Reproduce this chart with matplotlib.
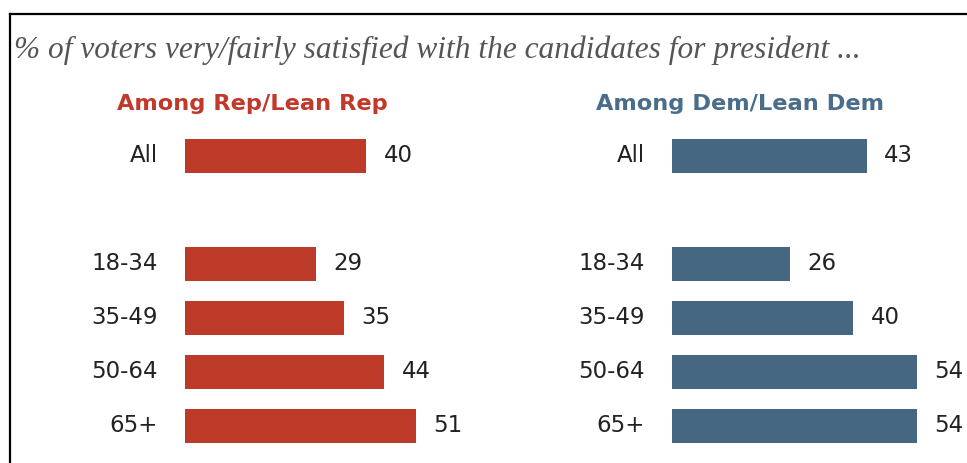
import matplotlib
matplotlib.use('Agg')
import matplotlib.pyplot as plt
from matplotlib.lines import Line2D

groups = ['All', '', '18-34', '35-49', '50-64', '65+']
repValues = [40, None, 29, 35, 44, 51]
demValues = [43, None, 26, 40, 54, 54]

repColor = '#be3a28'
demColor = '#456781'

W, H = 967, 463
fig = plt.figure(figsize=(W / 100, H / 100), dpi=100)

pxPerUnit = 4.53
yTop, yBot = 129, 452.5


def drawPanel(left, values, color):
    ax = fig.add_axes([left / W, 1 - yBot / H, 60 * pxPerUnit / W, (yBot - yTop) / H])
    for i, (g, v) in enumerate(zip(groups, values)):
        if v is None:
            continue
        ax.barh(i, v, height=0.63, color=color, edgecolor='none')
        ax.text(-6, i, g, ha='right', va='center', fontsize=16.5, color='#222222')
        ax.annotate(str(v), (v, i), xytext=(12.5, 0), textcoords='offset points',
                    ha='left', va='center', fontsize=16.5, color='#222222')
    ax.set_xlim(0, 60)
    ax.set_ylim(5.5, -0.5)
    ax.axis('off')
    return ax


drawPanel(185, repValues, repColor)
drawPanel(672, demValues, demColor)

fig.text(14 / W, 1 - 58 / H, '% of voters very/fairly satisfied with the candidates for president ...',
         ha='left', va='baseline', fontsize=22.6, family='Liberation Serif', style='italic', color='#555555')
fig.text(252 / W, 1 - 104 / H, 'Among Rep/Lean Rep', ha='center', va='center',
         fontsize=16.2, fontweight='bold', color='#c0392b')
fig.text(740 / W, 1 - 104 / H, 'Among Dem/Lean Dem', ha='center', va='center',
         fontsize=16.2, fontweight='bold', color='#4a6d8c')

# frame lines along top and left
fig.add_artist(Line2D([10 / W, 1], [1 - 14 / H, 1 - 14 / H], color='black', lw=1.6))
fig.add_artist(Line2D([10 / W, 10 / W], [1 - 14 / H, 0], color='black', lw=1.6))

fig.savefig('out.png', dpi=100)
